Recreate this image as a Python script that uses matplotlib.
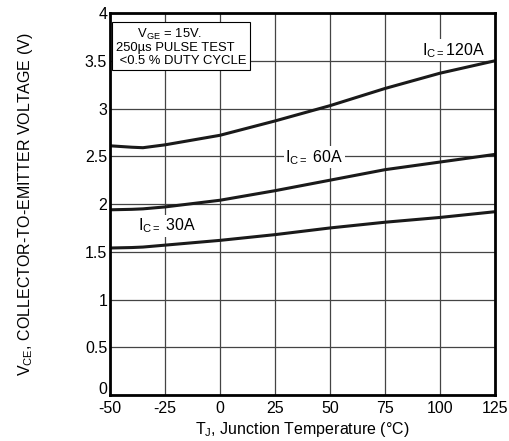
import matplotlib
matplotlib.use("Agg")
import matplotlib.pyplot as plt
import matplotlib.transforms as mtransforms
import numpy as np

plt.rcParams['font.family'] = ['Liberation Sans', 'DejaVu Sans']
plt.rcParams['mathtext.fontset'] = 'custom'
plt.rcParams['mathtext.rm'] = 'Liberation Sans'
plt.rcParams['mathtext.it'] = 'Liberation Sans'

temps = [-50, -40, -35, -25, 0, 25, 50, 75, 100, 125]
vce_120 = [2.61, 2.595, 2.59, 2.62, 2.72, 2.87, 3.03, 3.21, 3.37, 3.50]
vce_60 = [1.94, 1.945, 1.95, 1.97, 2.04, 2.14, 2.25, 2.36, 2.44, 2.52]
vce_30 = [1.54, 1.545, 1.55, 1.57, 1.62, 1.68, 1.75, 1.81, 1.86, 1.92]

xticks = [-50, -25, 0, 25, 50, 75, 100, 125]
yticks = [0, 0.5, 1, 1.5, 2, 2.5, 3, 3.5, 4]
ytick_labels = ['0', '0.5', '1', '1.5', '2', '2.5', '3', '3.5', '4']

fig = plt.figure(figsize=(5.09, 4.41), dpi=100)
ax = fig.add_axes([0.216, 0.104, 0.7565, 0.8665])

ax.set_xlim(-50, 125)
ax.set_ylim(0, 4)
ax.set_xticks(xticks)
ax.set_xticklabels([str(t) for t in xticks])
ax.set_yticks(yticks)
ax.set_yticklabels(ytick_labels)
ax.tick_params(length=0, labelsize=11.5)
ax.tick_params(axis='x', pad=4)
ax.tick_params(axis='y', pad=2)
lbl0 = ax.yaxis.get_major_ticks()[0].label1
lbl0.set_transform(lbl0.get_transform() +
                   mtransforms.ScaledTranslation(0, 5 / 72, fig.dpi_scale_trans))
ax.grid(True, color='#444444', linewidth=0.9)
ax.set_axisbelow(True)
for s in ax.spines.values():
    s.set_linewidth(2)
    s.set_color('black')

for y in (vce_120, vce_60, vce_30):
    ax.plot(temps, y, color='#1a1a1a', linewidth=2.2, solid_capstyle='butt')

bbox = dict(facecolor='white', edgecolor='none', pad=1)
ax.text(106, 3.61, r'I$_{\mathrm{C=}}$120A', fontsize=11.5, ha='center', va='center', bbox=bbox)
ax.text(43, 2.49, r'I$_{\mathrm{C=}}$ 60A', fontsize=11.5, ha='center', va='center', bbox=bbox)
ax.text(-24, 1.77, r'I$_{\mathrm{C=}}$ 30A', fontsize=11.5, ha='center', va='center', bbox=bbox)

ax.text(-47.3, 3.44,
        '      V$_{\\mathrm{GE}}$ = 15V.\n250\u00b5s PULSE TEST\n <0.5 % DUTY CYCLE',
        fontsize=9.4, ha='left', va='bottom', linespacing=1.05,
        bbox=dict(facecolor='white', edgecolor='black', linewidth=0.8, pad=2.5))

ax.set_xlabel(r'T$_{\mathrm{J}}$, Junction Temperature (°C)', fontsize=11.5, labelpad=3)
ax.set_ylabel(r'V$_{\mathrm{CE}}$, COLLECTOR-TO-EMITTER VOLTAGE (V)', fontsize=11.5, labelpad=36)

fig.savefig('out.png', dpi=100)
